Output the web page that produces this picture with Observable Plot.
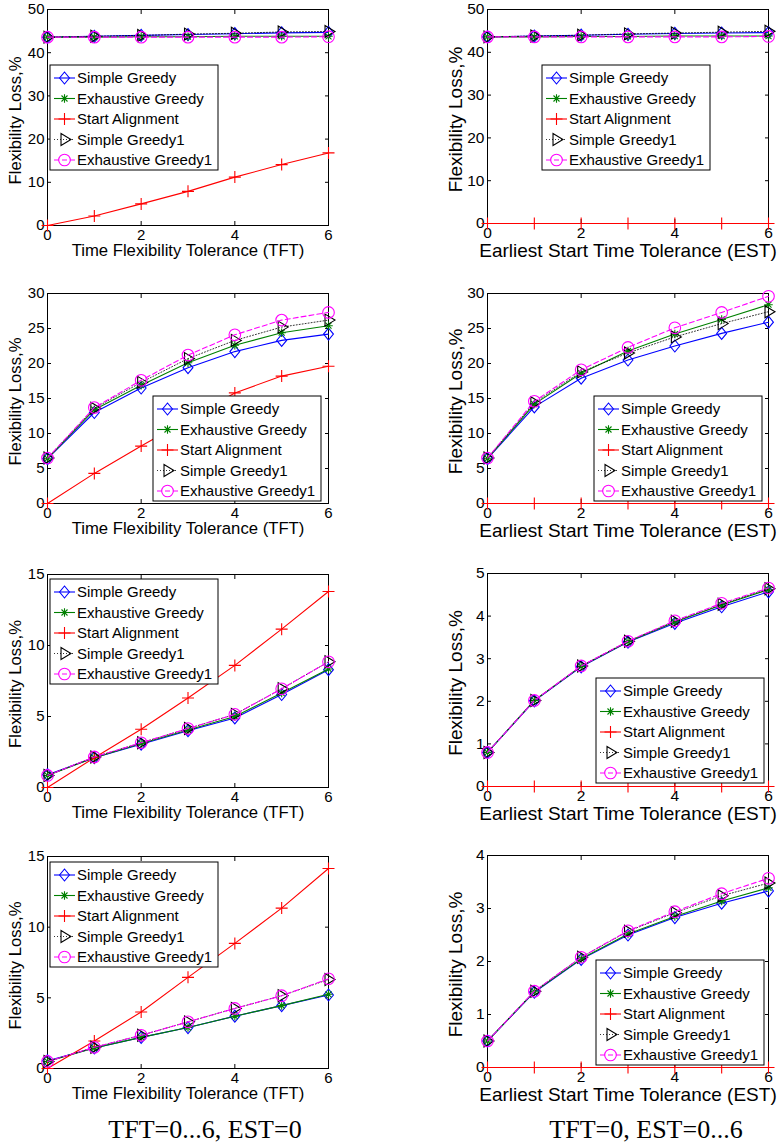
<!DOCTYPE html>
<html><head><meta charset="utf-8">
<script src="https://cdn.jsdelivr.net/npm/d3@7"></script>
<script src="https://cdn.jsdelivr.net/npm/@observablehq/plot@0.6"></script>
<style>
body{margin:0;background:#fff;}
#root{position:relative;width:784px;height:1146px;overflow:hidden;background:#fff;}
.cap{position:absolute;font-family:"Liberation Serif","Times New Roman",serif;font-size:26px;color:#000;white-space:nowrap;transform:translateX(-50%);line-height:1;}
</style></head><body><div id="root"></div>
<script>
// ---------- data ----------
const xs = [0, 1, 2, 3, 4, 5, 6];
const xTicks = [0, 2, 4, 6];
const seriesNames = ["Simple Greedy", "Exhaustive Greedy", "Start Alignment", "Simple Greedy1", "Exhaustive Greedy1"];
const xLabelTFT = "Time Flexibility Tolerance (TFT)";
const xLabelEST = "Earliest Start Time Tolerance (EST)";
const yLabel = "Flexibility Loss,%";
const captions = ["TFT=0...6, EST=0", "TFT=0, EST=0...6"];

// panel 1 : TFT, row 1
const p1SG  = [43.6, 43.8, 44.0, 44.2, 44.4, 44.6, 44.7];
const p1EG  = [43.6, 43.6, 43.7, 43.7, 43.8, 43.8, 43.8];
const p1SA  = [0, 2.2, 5.0, 7.9, 11.2, 14.1, 16.8];
const p1SG1 = [43.6, 43.8, 44.0, 44.3, 44.5, 44.8, 44.9];
const p1EG1 = [43.6, 43.6, 43.6, 43.6, 43.6, 43.6, 43.7];
// panel 2 : EST, row 1
const p2SG  = [43.6, 43.8, 44.0, 44.2, 44.4, 44.5, 44.6];
const p2EG  = [43.6, 43.6, 43.7, 43.7, 43.8, 43.8, 43.8];
const p2SA  = [0, 0, 0, 0, 0, 0, 0];
const p2SG1 = [43.6, 43.8, 44.0, 44.3, 44.5, 44.7, 44.9];
const p2EG1 = [43.6, 43.6, 43.6, 43.6, 43.6, 43.6, 43.7];
// panel 3 : TFT, row 2
const p3SG  = [6.4, 13.0, 16.5, 19.4, 21.7, 23.3, 24.2];
const p3EG  = [6.4, 13.4, 16.9, 20.1, 22.6, 24.4, 25.4];
const p3SA  = [0, 4.3, 8.2, 12.0, 15.8, 18.2, 19.6];
const p3SG1 = [6.5, 13.6, 17.3, 20.7, 23.3, 25.2, 26.2];
const p3EG1 = [6.5, 13.7, 17.6, 21.2, 24.1, 26.2, 27.3];
// panel 4 : EST, row 2
const p4SG  = [6.4, 13.8, 17.9, 20.5, 22.5, 24.3, 25.9];
const p4EG  = [6.4, 14.2, 18.6, 21.8, 24.2, 26.3, 28.4];
const p4SA  = [0, 0, 0, 0, 0, 0, 0];
const p4SG1 = [6.5, 14.4, 18.8, 21.5, 23.8, 25.7, 27.4];
const p4EG1 = [6.5, 14.6, 19.1, 22.3, 25.1, 27.3, 29.6];
// panel 5 : TFT, row 3
const p5SG  = [0.9, 2.1, 3.05, 4.0, 4.9, 6.55, 8.3];
const p5EG  = [0.85, 2.1, 3.1, 4.05, 5.0, 6.65, 8.35];
const p5SA  = [0, 2.1, 4.1, 6.3, 8.6, 11.15, 13.8];
const p5SG1 = [0.85, 2.15, 3.15, 4.15, 5.15, 6.95, 8.85];
const p5EG1 = [0.85, 2.15, 3.15, 4.15, 5.15, 6.95, 8.85];
// panel 6 : EST, row 3
const p6SG  = [0.8, 2.01, 2.81, 3.39, 3.83, 4.22, 4.57];
const p6EG  = [0.8, 2.02, 2.82, 3.40, 3.86, 4.26, 4.62];
const p6SA  = [0, 0, 0, 0, 0, 0, 0];
const p6SG1 = [0.8, 2.02, 2.83, 3.41, 3.88, 4.28, 4.64];
const p6EG1 = [0.8, 2.02, 2.83, 3.41, 3.89, 4.30, 4.66];
// panel 7 : TFT, row 4
const p7SG  = [0.55, 1.45, 2.2, 2.9, 3.7, 4.45, 5.2];
const p7EG  = [0.5, 1.45, 2.2, 2.9, 3.7, 4.45, 5.25];
const p7SA  = [0, 1.95, 4.0, 6.45, 8.85, 11.35, 14.15];
const p7SG1 = [0.5, 1.5, 2.35, 3.3, 4.25, 5.15, 6.3];
const p7EG1 = [0.5, 1.5, 2.35, 3.3, 4.25, 5.15, 6.35];
// panel 8 : EST, row 4
const p8SG  = [0.5, 1.42, 2.04, 2.5, 2.83, 3.1, 3.33];
const p8EG  = [0.5, 1.43, 2.05, 2.52, 2.85, 3.14, 3.39];
const p8SA  = [0, 0, 0, 0, 0, 0, 0];
const p8SG1 = [0.5, 1.44, 2.08, 2.57, 2.92, 3.24, 3.48];
const p8EG1 = [0.5, 1.44, 2.08, 2.58, 2.94, 3.28, 3.57];

const yTicks50 = [0, 10, 20, 30, 40, 50];
const yTicks30 = [0, 5, 10, 15, 20, 25, 30];
const yTicks15 = [0, 5, 10, 15];
const yTicks5  = [0, 1, 2, 3, 4, 5];
const yTicks4  = [0, 1, 2, 3, 4];

// ---------- styles ----------
const FONT = '"Liberation Sans", Arial, Helvetica, sans-serif';
const colors = ["#0000ff", "#008000", "#ff0000", "#000000", "#ff00ff"];
const dashes = [null, null, null, "1,2", "5,3"];
const lineWidths = [1.1, 1.1, 1.1, 0.8, 1.1];

const symDiamond = {draw(c, size) { const r = Math.sqrt(size / Math.PI); c.moveTo(0, -r); c.lineTo(r * 0.82, 0); c.lineTo(0, r); c.lineTo(-r * 0.82, 0); c.closePath(); }};
const symAster = {draw(c, size) { const r = Math.sqrt(size / Math.PI) * 0.85, d = r * Math.SQRT1_2;
  c.moveTo(-r, 0); c.lineTo(r, 0); c.moveTo(0, -r); c.lineTo(0, r);
  c.moveTo(-d, -d); c.lineTo(d, d); c.moveTo(-d, d); c.lineTo(d, -d); }};
const symPlus = {draw(c, size) { const r = Math.sqrt(size / Math.PI); c.moveTo(-r, 0); c.lineTo(r, 0); c.moveTo(0, -r); c.lineTo(0, r); }};
const symTri = {draw(c, size) { const r = Math.sqrt(size / Math.PI); c.moveTo(-0.58 * r, -r); c.lineTo(-0.58 * r, r); c.lineTo(1.08 * r, 0); c.closePath(); }};
const symCircle = {draw(c, size) { const r = Math.sqrt(size / Math.PI); c.moveTo(r, 0); c.arc(0, 0, r, 0, 2 * Math.PI); }};
const symbols = [symDiamond, symAster, symPlus, symTri, symCircle];
const radii = [6, 5, 6, 6, 5.8];

const panels = [
  {col: 0, top: 9,   bottom: 225,  ymax: 50, yt: yTicks50, xl: xLabelTFT, s: [p1SG, p1EG, p1SA, p1SG1, p1EG1], leg: [50, 65]},
  {col: 1, top: 9,   bottom: 223,  ymax: 50, yt: yTicks50, xl: xLabelEST, s: [p2SG, p2EG, p2SA, p2SG1, p2EG1], leg: [542, 65]},
  {col: 0, top: 293, bottom: 503,  ymax: 30, yt: yTicks30, xl: xLabelTFT, s: [p3SG, p3EG, p3SA, p3SG1, p3EG1], leg: [153, 396]},
  {col: 1, top: 293, bottom: 503,  ymax: 30, yt: yTicks30, xl: xLabelEST, s: [p4SG, p4EG, p4SA, p4SG1, p4EG1], leg: [594, 396]},
  {col: 0, top: 574, bottom: 787,  ymax: 15, yt: yTicks15, xl: xLabelTFT, s: [p5SG, p5EG, p5SA, p5SG1, p5EG1], leg: [50, 579]},
  {col: 1, top: 573, bottom: 786,  ymax: 5,  yt: yTicks5,  xl: xLabelEST, s: [p6SG, p6EG, p6SA, p6SG1, p6EG1], leg: [596, 678]},
  {col: 0, top: 856, bottom: 1068, ymax: 15, yt: yTicks15, xl: xLabelTFT, s: [p7SG, p7EG, p7SA, p7SG1, p7EG1], leg: [50, 862]},
  {col: 1, top: 855, bottom: 1067, ymax: 4,  yt: yTicks4,  xl: xLabelEST, s: [p8SG, p8EG, p8SA, p8SG1, p8EG1], leg: [596, 960]}
];

const root = document.getElementById("root");
const fmt = d => String(d);

function drawPanel(p) {
  const ml = 47, mr = 16, mt = 9, mb = 40, fw = 281;
  const fh = p.bottom - p.top;
  const left = p.col ? 440 : 0;
  const tickFont = p.col ? 15.5 : 15;
  const labFont = p.col ? 19 : 16.7;
  const marks = [];
  // axes: tick labels and inward ticks on all four sides
  marks.push(Plot.axisX(xTicks, {anchor: "bottom", tickSize: 0, tickPadding: p.col ? 3 : 4, fontSize: tickFont, tickFormat: fmt, label: null}));
  marks.push(Plot.axisY(p.yt, {anchor: "left", tickSize: 0, tickPadding: 3, fontSize: tickFont, tickFormat: fmt, label: null}));
  marks.push(Plot.axisX(xTicks, {anchor: "bottom", tickSize: -4, fill: "none", label: null}));
  marks.push(Plot.axisX(xTicks, {anchor: "top", tickSize: -4, fill: "none", label: null}));
  marks.push(Plot.axisY(p.yt, {anchor: "left", tickSize: -4, fill: "none", label: null}));
  marks.push(Plot.axisY(p.yt, {anchor: "right", tickSize: -4, fill: "none", label: null}));
  marks.push(Plot.text([p.xl], {text: d => d, frameAnchor: "bottom", textAnchor: "middle", dy: p.col ? 27 : 25.5, fontSize: labFont, lineAnchor: "middle"}));
  marks.push(Plot.text([yLabel], {text: d => d, frameAnchor: "left", textAnchor: "middle", dx: -32, dy: 3, rotate: -90, fontSize: labFont, lineAnchor: "middle"}));
  marks.push(Plot.frame({stroke: "black", strokeWidth: 1}));
  p.s.forEach((vals, i) => {
    const rows = vals.map((v, j) => ({x: xs[j], y: v}));
    marks.push(Plot.line(rows, {x: "x", y: "y", stroke: colors[i], strokeWidth: lineWidths[i], strokeDasharray: dashes[i]}));
    marks.push(Plot.dot(rows, {x: "x", y: "y", symbol: symbols[i], r: radii[i], stroke: colors[i], fill: "none", strokeWidth: 1.1}));
  });
  const svg = Plot.plot({
    width: ml + fw + mr, height: mt + fh + mb,
    marginLeft: ml, marginRight: mr, marginTop: mt, marginBottom: mb,
    x: {domain: [0, 6]}, y: {domain: [0, p.ymax]},
    style: {fontFamily: FONT, background: "transparent", color: "black", overflow: "visible"},
    marks
  });
  svg.style.position = "absolute";
  svg.style.left = left + "px";
  svg.style.top = (p.top - mt) + "px";
  root.appendChild(svg);

  // legend box inside the axes
  const lx = p.leg[0] - left, ly = p.leg[1] - (p.top - mt);
  const g = d3.select(svg).append("g").attr("transform", `translate(${lx},${ly})`);
  g.append("rect").attr("x", 0).attr("y", 0).attr("width", 168).attr("height", 105)
    .attr("fill", "white").attr("stroke", "black").attr("stroke-width", 1);
  seriesNames.forEach((name, i) => {
    const yy = 13 + i * 20.5;
    g.append("line").attr("x1", 4).attr("x2", 25).attr("y1", yy).attr("y2", yy)
      .attr("stroke", colors[i]).attr("stroke-width", lineWidths[i]).attr("stroke-dasharray", dashes[i]);
    g.append("path").attr("transform", `translate(14.5,${yy})`)
      .attr("d", d3.symbol(symbols[i], Math.PI * radii[i] * radii[i])())
      .attr("fill", "none").attr("stroke", colors[i]).attr("stroke-width", 1.1);
    g.append("text").attr("x", 27).attr("y", yy).attr("dy", "0.35em")
      .attr("text-anchor", "start")
      .attr("font-size", 15).attr("font-family", FONT).attr("fill", "black").text(name);
  });
}
panels.forEach(drawPanel);

[[205, captions[0]], [646, captions[1]]].forEach(([cx, t]) => {
  const d = document.createElement("div");
  d.className = "cap";
  d.style.left = cx + "px";
  d.style.top = "1117px";
  d.textContent = t;
  root.appendChild(d);
});
</script></body></html>
